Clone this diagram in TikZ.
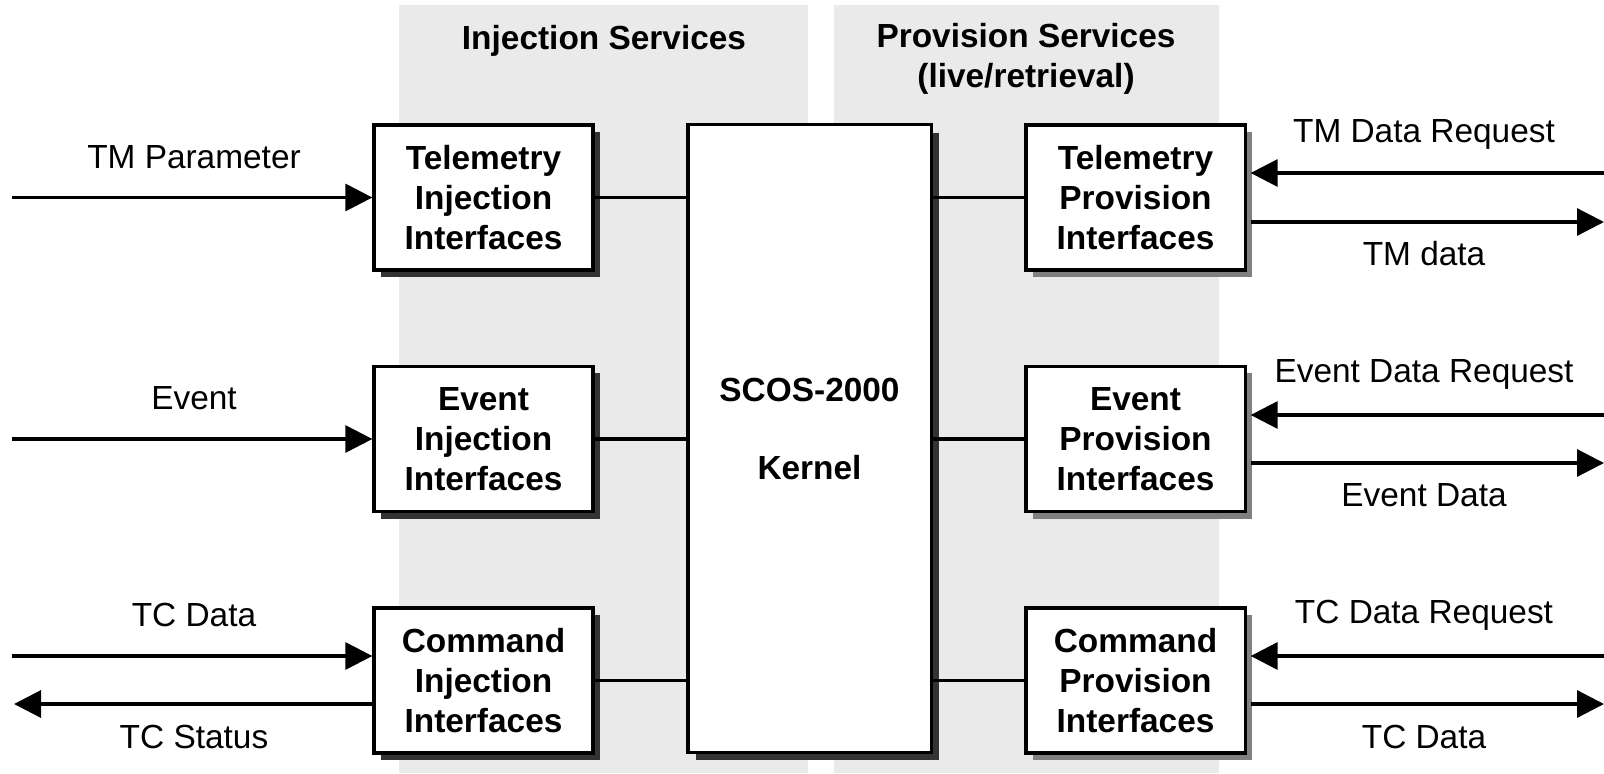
\documentclass[tikz,border=0pt]{standalone}
\usepackage{fontspec}
\setmainfont{Liberation Sans}
\usetikzlibrary{arrows.meta,shadows}
\definecolor{bandgray}{HTML}{EAEAEA}
\newcommand{\lblfont}{\fontsize{9.5}{11.4}\selectfont}
\tikzset{injbox/.style={draw, line width=0.9pt, fill=white, align=center,
  font=\lblfont\bfseries, minimum width=2.19cm, minimum height=1.45cm, inner sep=0pt,
  drop shadow={shadow xshift=0.07cm, shadow yshift=-0.07cm, fill=black!80, opacity=1}}}
\tikzset{provbox/.style={injbox,
  drop shadow={shadow xshift=0.07cm, shadow yshift=-0.07cm, fill=black!50, opacity=1}}}
\tikzset{flow/.style={line width=0.9pt, -{Triangle[length=0.27cm, width=0.27cm]}}}
\tikzset{lbl/.style={font=\lblfont, inner sep=0pt}}

\begin{document}
\begin{tikzpicture}[x=0.01cm, y=-0.01cm]
\useasboundingbox (0,0) rectangle (1604,773);

% service bands
\fill[bandgray] (399,5) rectangle (808,773);
\fill[bandgray] (834,5) rectangle (1219,773);
\node[lbl, font=\lblfont\bfseries] (injtitle) at (604,41) {Injection Services};
\node[lbl, font=\lblfont\bfseries, align=center] (provtitle) at (1026,59) {Provision Services\\(live/retrieval)};

% kernel
\node[draw, line width=0.9pt, fill=white, minimum width=2.43cm, minimum height=6.27cm,
  drop shadow={shadow xshift=0.08cm, shadow yshift=-0.08cm, fill=black!80, opacity=1}]
  (kern) at (809.5,438.5) {};
\node[lbl, font=\lblfont\bfseries, align=center] (kernlbl) at (809.5,429) {SCOS-2000\\[0.38cm]Kernel};

% injection interfaces
\node[injbox] (tminj) at (483.5,197.5) {Telemetry\\Injection\\Interfaces};
\node[injbox] (evinj) at (483.5,439) {Event\\Injection\\Interfaces};
\node[injbox] (tcinj) at (483.5,680.5) {Command\\Injection\\Interfaces};

% provision interfaces
\node[provbox] (tmprov) at (1135.5,197.5) {Telemetry\\Provision\\Interfaces};
\node[provbox] (evprov) at (1135.5,439) {Event\\Provision\\Interfaces};
\node[provbox] (tcprov) at (1135.5,680.5) {Command\\Provision\\Interfaces};

% links to kernel
\foreach \n in {tminj,evinj,tcinj}
  \draw[line width=0.9pt] (\n.east) -- (\n.east -| kern.west);
\foreach \n in {tmprov,evprov,tcprov}
  \draw[line width=0.9pt] (\n.west) -- (\n.west -| kern.east);

% left inputs
\coordinate (tmsrc) at (12,197.5);
\coordinate (evsrc) at (12,439);
\coordinate (tcsrc) at (12,656);
\coordinate (tcdst) at (14,704);
\draw[flow] (tmsrc) -- (tminj.west);
\draw[flow] (evsrc) -- (evinj.west);
\draw[flow] (tcsrc) -- (tcsrc -| tcinj.west);
\draw[flow] (tcdst -| tcinj.west) -- (tcdst);
\node[lbl] (tmparam) at (194,157) {TM Parameter};
\node[lbl] (evlbl) at (194,398) {Event};
\node[lbl] (tcdatal) at (194,615) {TC Data};
\node[lbl] (tcstat) at (194,737) {TC Status};

% right requests and data
\coordinate (tmreq) at (1604,173);
\coordinate (tmout) at (1604,222);
\coordinate (evreq) at (1604,415);
\coordinate (evout) at (1604,463);
\coordinate (tcreq) at (1604,656);
\coordinate (tcout) at (1604,704);
\foreach \b/\r/\o in {tmprov/tmreq/tmout, evprov/evreq/evout, tcprov/tcreq/tcout} {
  \draw[flow] (\r) -- ([xshift=0.04cm]\r -| \b.east);
  \draw[flow] ([xshift=0.04cm]\o -| \b.east) -- (\o);
}
\node[lbl] (tmreql) at (1424,134) {TM Data Request};
\node[lbl] (tmoutl) at (1424,254) {TM data};
\node[lbl] (evreql) at (1424,374) {Event Data Request};
\node[lbl] (evoutl) at (1424,495) {Event Data};
\node[lbl] (tcreql) at (1424,615) {TC Data Request};
\node[lbl] (tcoutl) at (1424,737) {TC Data};
\end{tikzpicture}
\end{document}
